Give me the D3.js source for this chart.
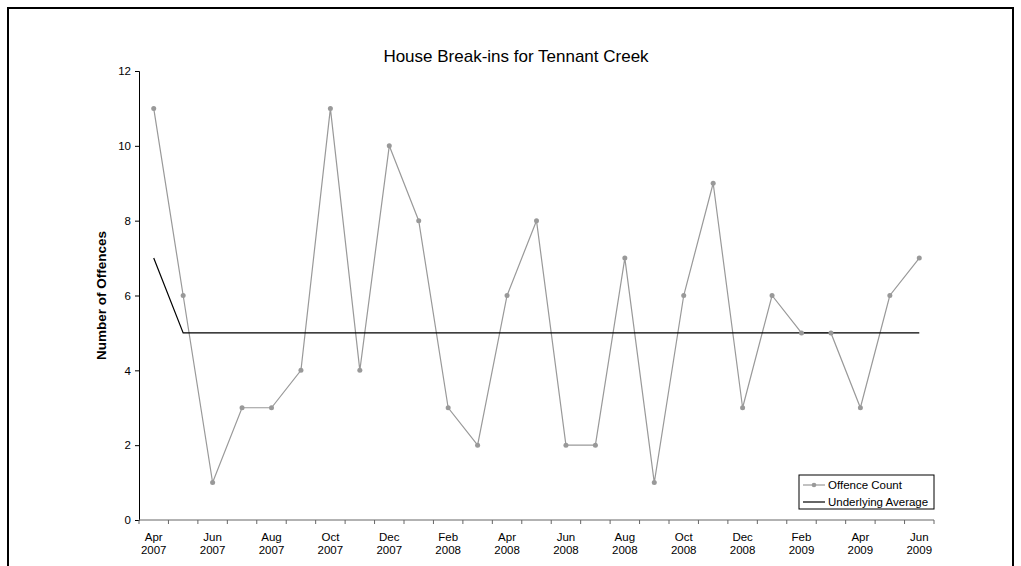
<!DOCTYPE html>
<html>
<head>
<meta charset="utf-8">
<script src="https://cdn.jsdelivr.net/npm/d3@7"></script>
<style>
  body { margin: 0; background: #fff; }
  text { font-family: "Liberation Sans", Arial, sans-serif; fill: #000; }
</style>
</head>
<body>
<svg id="chart" width="1021" height="566"></svg>
<script>
// months shown on the x axis (one band per month)
const months = ["Apr 2007", "May 2007", "Jun 2007", "Jul 2007", "Aug 2007", "Sep 2007",
    "Oct 2007", "Nov 2007", "Dec 2007", "Jan 2008", "Feb 2008", "Mar 2008",
    "Apr 2008", "May 2008", "Jun 2008", "Jul 2008", "Aug 2008", "Sep 2008",
    "Oct 2008", "Nov 2008", "Dec 2008", "Jan 2009", "Feb 2009", "Mar 2009",
    "Apr 2009", "May 2009", "Jun 2009"];
const offenceCount = [11, 6, 1, 3, 3, 4, 11, 4, 10, 8, 3, 2, 6, 8, 2, 2, 7, 1, 6, 9, 3, 6, 5, 5, 3, 6, 7];
const underlyingAverage = [7, 5, 5, 5, 5, 5, 5, 5, 5, 5, 5, 5, 5, 5, 5, 5, 5, 5, 5, 5, 5, 5, 5, 5, 5, 5, 5];
const yTicks = [0, 2, 4, 6, 8, 10, 12];

const svg = d3.select("#chart");
const plotLeft = 139, plotRight = 934, plotTop = 71, plotBottom = 520;

// outer frame
svg.append("rect")
    .attr("x", 8).attr("y", 8)
    .attr("width", 1005).attr("height", 600)
    .attr("fill", "none").attr("stroke", "#000").attr("stroke-width", 2);

const x = d3.scaleBand().domain(months).range([plotLeft, plotRight]);
const y = d3.scaleLinear().domain([0, 12]).range([plotBottom, plotTop]);
const cx = (d) => x(d) + x.bandwidth() / 2;

// y axis
const yAxis = svg.append("g")
    .attr("transform", `translate(${plotLeft},0)`)
    .call(d3.axisLeft(y).tickValues(yTicks).tickSize(4).tickPadding(4));
yAxis.select(".domain").attr("stroke", "#000");
yAxis.selectAll("text").style("font-size", "11.5px");

// x axis: band edges as ticks, label every second month
const edges = months.map((m) => x(m)).concat([plotRight]);
const xg = svg.append("g");
xg.append("line")
    .attr("x1", plotLeft).attr("x2", plotRight)
    .attr("y1", plotBottom).attr("y2", plotBottom)
    .attr("stroke", "#666");
xg.selectAll("line.tick")
    .data(edges)
    .join("line")
    .attr("class", "tick")
    .attr("x1", (d) => d).attr("x2", (d) => d)
    .attr("y1", plotBottom).attr("y2", plotBottom + 4)
    .attr("stroke", "#666");
const lbl = xg.selectAll("text")
    .data(months.filter((m, i) => i % 2 === 0))
    .join("text")
    .attr("text-anchor", "middle")
    .style("font-size", "11.5px");
lbl.append("tspan").attr("x", cx).attr("y", plotBottom + 21).text((d) => d.split(" ")[0]);
lbl.append("tspan").attr("x", cx).attr("y", plotBottom + 34).text((d) => d.split(" ")[1]);

// series lines
const line = (vals) => d3.line()
    .x((d, i) => cx(months[i]))
    .y((d) => y(d))(vals);

svg.append("path")
    .attr("d", line(offenceCount))
    .attr("fill", "none").attr("stroke", "#999").attr("stroke-width", 1.2);

svg.append("path")
    .attr("d", line(underlyingAverage))
    .attr("fill", "none").attr("stroke", "#000").attr("stroke-width", 1.2);

svg.append("g")
    .selectAll("circle")
    .data(offenceCount)
    .join("circle")
    .attr("cx", (d, i) => cx(months[i]))
    .attr("cy", (d) => y(d))
    .attr("r", 2.5)
    .attr("fill", "#999");

// title and axis label
svg.append("text")
    .attr("x", 516).attr("y", 62)
    .attr("text-anchor", "middle")
    .style("font-size", "17px")
    .text("House Break-ins for Tennant Creek");

svg.append("text")
    .attr("transform", `translate(106,${(plotTop + plotBottom) / 2}) rotate(-90)`)
    .attr("text-anchor", "middle")
    .style("font-size", "13.5px")
    .style("font-weight", "bold")
    .text("Number of Offences");

// legend
const lg = svg.append("g").attr("transform", "translate(799,475)");
lg.append("rect")
    .attr("width", 135).attr("height", 34)
    .attr("fill", "#fff").attr("stroke", "#000");
lg.append("line").attr("x1", 4).attr("x2", 26).attr("y1", 10).attr("y2", 10)
    .attr("stroke", "#999").attr("stroke-width", 1.2);
lg.append("circle").attr("cx", 15).attr("cy", 10).attr("r", 2.3).attr("fill", "#999");
lg.append("text").attr("x", 29).attr("y", 14).style("font-size", "11.5px").text("Offence Count");
lg.append("line").attr("x1", 4).attr("x2", 26).attr("y1", 27).attr("y2", 27)
    .attr("stroke", "#000").attr("stroke-width", 1.2);
lg.append("text").attr("x", 29).attr("y", 31).style("font-size", "11.5px").text("Underlying Average");
</script>
</body>
</html>
